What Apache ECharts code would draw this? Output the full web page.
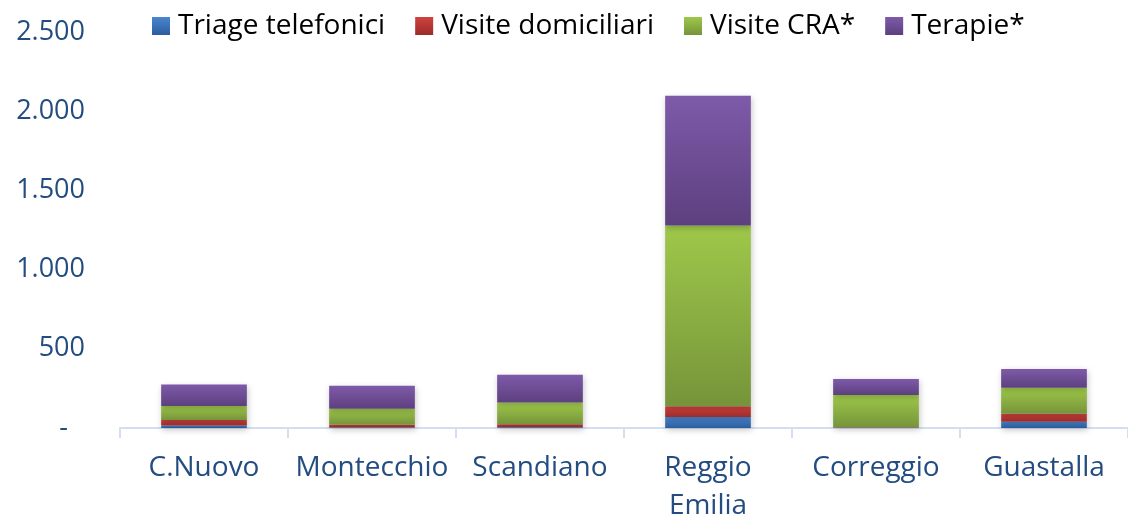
<!DOCTYPE html>
<html>
<head>
<meta charset="utf-8">
<script src="https://cdn.jsdelivr.net/npm/echarts@6/dist/echarts.min.js"></script>
<style>
  html, body { margin: 0; padding: 0; background: #fff; }
  #chart { width: 1128px; height: 520px; }
</style>
</head>
<body>
<div id="chart"></div>
<script>
const categories = ['C.Nuovo', 'Montecchio', 'Scandiano', 'Reggio Emilia', 'Correggio', 'Guastalla'];
const triage = [15, 3, 5, 69, 2, 40];
const domiciliari = [36, 18, 19, 69, 2, 50];
const visiteCra = [88, 101, 137, 1140, 204, 164];
const terapie = [135, 145, 175, 820, 101, 118];

const seriesNames = ['Triage telefonici', 'Visite domiciliari', 'Visite CRA*', 'Terapie*'];
const seriesData = [triage, domiciliari, visiteCra, terapie];
// colori in stile Excel: chiaro in alto, scuro in basso
const gradients = [
  ['#4a86d0', '#2b5d9d'],
  ['#d0423f', '#9a2c2a'],
  ['#9ec84a', '#76943a'],
  ['#7e5aa9', '#5d407f']
];

const grad = (c) => new echarts.graphic.LinearGradient(0, 0, 0, 1, [
  { offset: 0, color: c[0] },
  { offset: 1, color: c[1] }
]);

const textBlue = '#234c80';
const font = 'Open Sans';

const chart = echarts.init(document.getElementById('chart'));
chart.setOption({
  animation: false,
  legend: {
    top: 12,
    left: 152,
    padding: 0,
    itemWidth: 18,
    itemHeight: 18,
    itemGap: 30,
    icon: 'rect',
    textStyle: { fontFamily: font, fontSize: 28, color: '#000', padding: [0, 0, 0, 3] },
    data: seriesNames
  },
  grid: { left: 120, right: 0, top: 32, bottom: 92, outerBoundsMode: 'none' },
  xAxis: {
    type: 'category',
    data: categories,
    axisLine: { lineStyle: { color: '#d3dff0', width: 2 } },
    axisTick: { show: true, length: 10, lineStyle: { color: '#d3dff0', width: 2 } },
    axisLabel: {
      interval: 0,
      margin: 21,
      fontFamily: font,
      fontSize: 28,
      lineHeight: 38,
      color: textBlue,
      formatter: (v) => v.replace(' ', '\n')
    }
  },
  yAxis: {
    type: 'value',
    min: 0,
    max: 2500,
    interval: 500,
    axisLine: { show: false },
    axisTick: { show: false },
    splitLine: { show: false },
    axisLabel: {
      margin: 35,
      fontFamily: font,
      fontSize: 27,
      color: textBlue,
      formatter: (v) => v === 0 ? '{z|-}' : v.toLocaleString('it-IT'),
      rich: {
        z: { fontFamily: font, fontSize: 27, color: textBlue, padding: [0, 17, 0, 0] }
      }
    }
  },
  series: seriesData.map((d, i) => ({
    name: seriesNames[i],
    type: 'bar',
    stack: 'tot',
    barWidth: '51%',
    data: d,
    itemStyle: {
      color: grad(gradients[i]),
      shadowBlur: 6,
      shadowOffsetX: 1,
      shadowOffsetY: 2,
      shadowColor: 'rgba(0,0,0,0.22)'
    }
  }))
});
</script>
</body>
</html>
